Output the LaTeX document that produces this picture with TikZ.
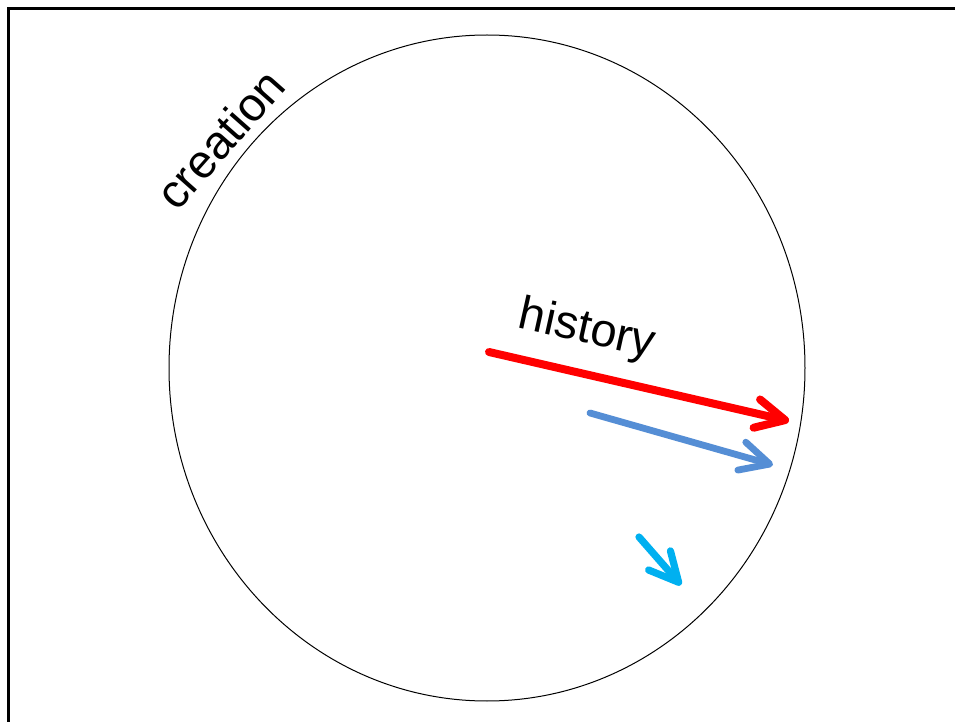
\documentclass[tikz,border=0pt]{standalone}
\usepackage{fontspec}
\setmainfont{Liberation Sans}
\usepackage{xcolor}
\definecolor{histRed}{HTML}{FF0000}
\definecolor{histBlue}{HTML}{558ED5}
\definecolor{histCyan}{HTML}{00B0F0}
\usetikzlibrary{arrows.meta}
\tikzset{
  barbarrow/.style={line cap=round, -{Straight Barb[length=14.5pt, width=14.5pt, round]}},
  bigword/.style={inner sep=0pt, font=\fontsize{23.5}{28}\selectfont}
}

\begin{document}
\begin{tikzpicture}[x=0.5pt, y=-0.5pt]
  \useasboundingbox (0,0) rectangle (955,722);
  \clip (0,0) rectangle (955,722);
  \fill[white] (0,0) rectangle (955,722);
  \draw[line width=1.5pt] (8,9) rectangle (980,760);
  \draw[line width=0.5pt] (487,368) ellipse [x radius=318, y radius=333];
  \node[bigword, rotate=48.5] (creation) at (220,139) {creation};
  \node[bigword, rotate=-12.5] (history) at (587,331) {history};
  \coordinate (redTail) at (489,352);
  \coordinate (redTip) at (789,421);
  \coordinate (blueTail) at (590,413);
  \coordinate (blueTip) at (773,465);
  \coordinate (cyanTail) at (639,537);
  \coordinate (cyanTip) at (681,585);
  \draw[barbarrow, histRed, line width=4pt] (redTail) -- (redTip);
  \draw[barbarrow, histBlue, line width=3.4pt] (blueTail) -- (blueTip);
  \draw[barbarrow, histCyan, line width=3.6pt] (cyanTail) -- (cyanTip);
\end{tikzpicture}
\end{document}
